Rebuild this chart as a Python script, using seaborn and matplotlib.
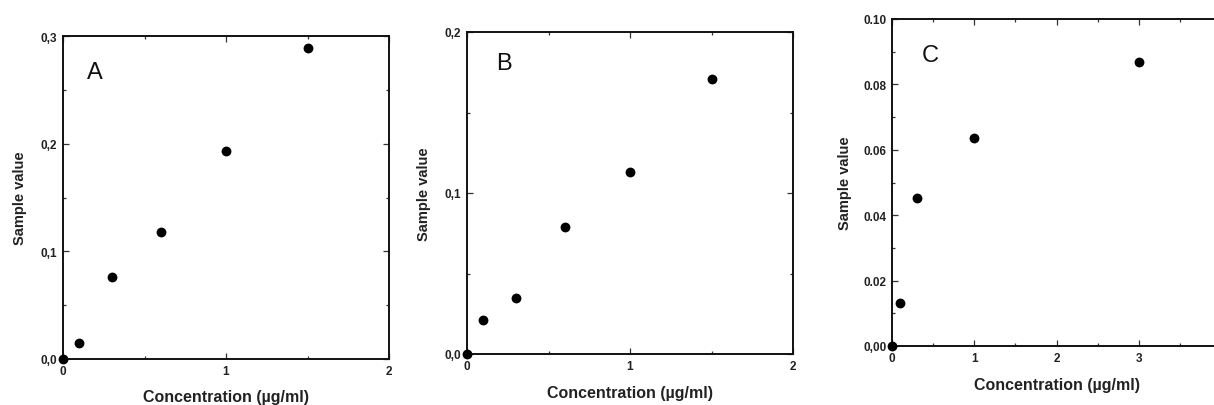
import matplotlib
matplotlib.use("Agg")
import matplotlib.pyplot as plt
import seaborn as sns
import pandas as pd
from matplotlib.ticker import MultipleLocator

sns.set_style("ticks")
plt.rcParams['font.family'] = ['Liberation Sans', 'DejaVu Sans']

# Data
conc_a = [0.0, 0.1, 0.3, 0.6, 1.0, 1.5]
val_a = [0.0, 0.015, 0.076, 0.118, 0.193, 0.289]
conc_b = [0.0, 0.1, 0.3, 0.6, 1.0, 1.5]
val_b = [0.0, 0.021, 0.035, 0.079, 0.113, 0.171]
conc_c = [0.0, 0.1, 0.3, 1.0, 3.0]
val_c = [0.0, 0.0132, 0.0452, 0.0637, 0.087]

yticks_a = [0.0, 0.1, 0.2, 0.3]
ylabels_a = ["0,0", "0,1", "0,2", "0,3"]
yticks_b = [0.0, 0.1, 0.2]
ylabels_b = ["0,0", "0,1", "0,2"]
yticks_c = [0.0, 0.02, 0.04, 0.06, 0.08, 0.10]
ylabels_c = ["0,00", "0.02", "0.04", "0.06", "0.08", "0.10"]
xticks_ab = [0, 1, 2]
xticks_c = [0, 1, 2, 3]
panel_letters = ["A", "B", "C"]

xlabel = "Concentration (\u00b5g/ml)"
ylabel = "Sample value"

W, H = 1214, 406
fig = plt.figure(figsize=(W / 100, H / 100), dpi=100)

def px_rect(left, right, top, bottom):
    return [left / W, (H - bottom) / H, (right - left) / W, (bottom - top) / H]

specs = [
    dict(rect=px_rect(63, 389, 37, 360), x=conc_a, y=val_a, xlim=(0, 2), ylim=(0, 0.3),
         xt=xticks_ab, xminor=0.5, yt=yticks_a, yl=ylabels_a, yminor=0.05,
         letter_pos=(0.075, 0.89), ylpad=10, xlpad=9),
    dict(rect=px_rect(467, 793, 33, 355), x=conc_b, y=val_b, xlim=(0, 2), ylim=(0, 0.2),
         xt=xticks_ab, xminor=0.5, yt=yticks_b, yl=ylabels_b, yminor=0.05,
         letter_pos=(0.09, 0.905), ylpad=10, xlpad=10),
    dict(rect=px_rect(892, 1221, 20, 347), x=conc_c, y=val_c, xlim=(0, 4), ylim=(0, 0.10),
         xt=xticks_c, xminor=0.5, yt=yticks_c, yl=ylabels_c, yminor=0.01,
         letter_pos=(0.09, 0.89), ylpad=8, xlpad=10),
]

for letter, sp in zip(panel_letters, specs):
    ax = fig.add_axes(sp["rect"])
    df = pd.DataFrame({"conc": sp["x"], "val": sp["y"]})
    sns.scatterplot(data=df, x="conc", y="val", ax=ax, color="black", s=50,
                    edgecolor="black", linewidth=0, clip_on=False, zorder=5)
    ax.set_xlim(*sp["xlim"])
    ax.set_ylim(*sp["ylim"])
    ax.set_xticks(sp["xt"])
    ax.set_xticklabels([str(t) for t in sp["xt"]])
    ax.set_yticks(sp["yt"])
    ax.set_yticklabels(sp["yl"])
    ax.xaxis.set_minor_locator(MultipleLocator(sp["xminor"]))
    ax.yaxis.set_minor_locator(MultipleLocator(sp["yminor"]))
    for s in ax.spines.values():
        s.set_visible(True)
        s.set_linewidth(1.4)
        s.set_color("#111111")
    ax.tick_params(which="both", direction="in", top=True, right=True,
                   color="#333333", width=0.9)
    ax.tick_params(which="major", length=4, labelsize=8.5, pad=4)
    ax.tick_params(which="minor", length=2.5)
    for lab in ax.get_xticklabels() + ax.get_yticklabels():
        lab.set_fontweight("bold")
        lab.set_color("#222222")
    ax.set_xlabel(xlabel, fontsize=11.5, fontweight="bold", color="#222222",
                  labelpad=sp["xlpad"])
    ax.set_ylabel(ylabel, fontsize=10.5, fontweight="bold", color="#222222",
                  labelpad=sp["ylpad"])
    ax.text(sp["letter_pos"][0], sp["letter_pos"][1], letter, transform=ax.transAxes,
            fontsize=17, ha="left", va="center", color="#111111")
    ax.set_facecolor("white")

fig.savefig("out.png", dpi=100, facecolor="white")
